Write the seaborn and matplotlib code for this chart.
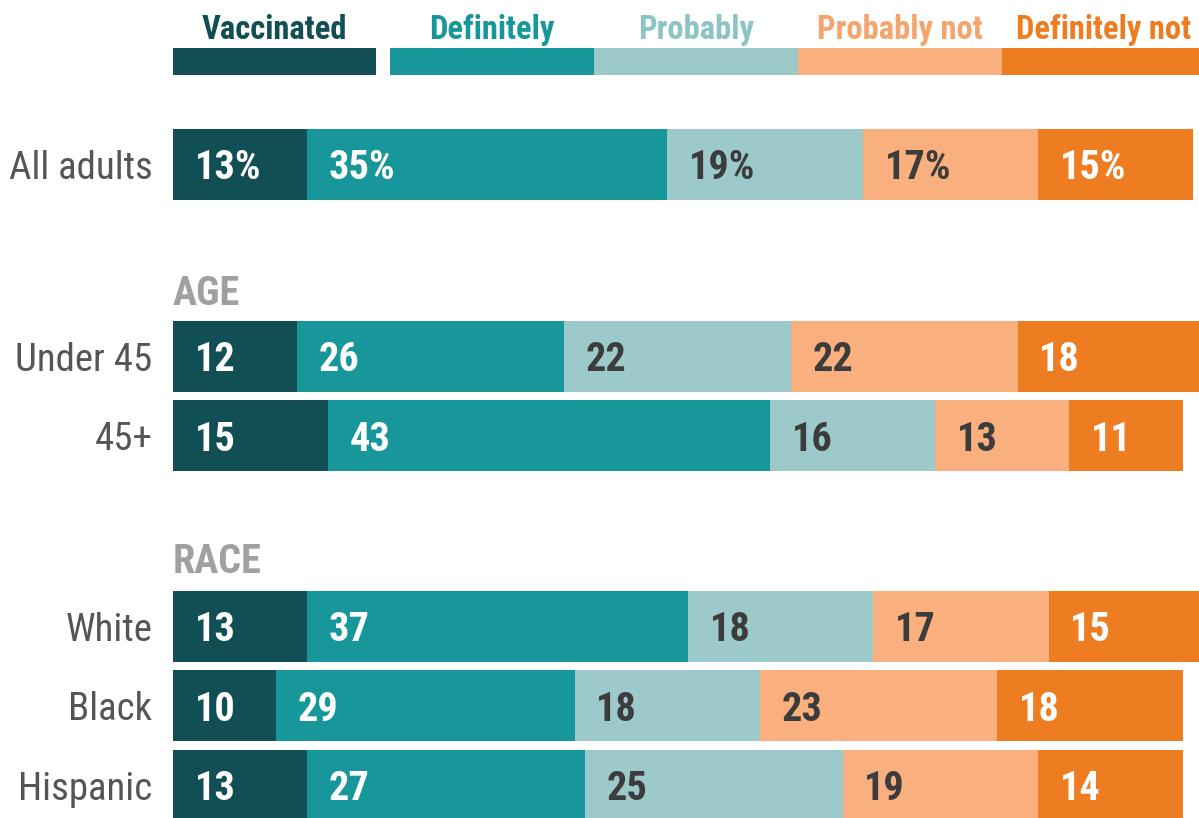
import numpy as np
import pandas as pd
import seaborn as sns
import matplotlib
matplotlib.use("Agg")
import matplotlib.pyplot as plt
from matplotlib import font_manager

# ---- data ----
groups = ["All adults", "Under 45", "45+", "White", "Black", "Hispanic"]
responses = ["Vaccinated", "Definitely", "Probably", "Probably not", "Definitely not"]
vaccinated = [13, 12, 15, 13, 10, 13]
definitely = [35, 26, 43, 37, 29, 27]
probably = [19, 22, 16, 18, 18, 25]
probably_not = [17, 22, 13, 17, 23, 19]
definitely_not = [15, 18, 11, 15, 18, 14]
sections = ["AGE", "RACE"]

# ---- style ----
colors = ["#114f54", "#17979a", "#9ccacb", "#f9b07e", "#ee7d22"]
legend_text_colors = ["#114f54", "#17979a", "#8cc4c5", "#f5a46b", "#ee7d22"]
value_text_colors = ["white", "white", "#3c3c3c", "#3c3c3c", "white"]

sns.set_theme(style="white")
avail = {f.name for f in font_manager.fontManager.ttflist}
family = "DejaVu Sans"
for cand in ["Liberation Sans Narrow", "Arial Narrow", "Roboto Condensed", "Pragati Narrow", "Liberation Sans"]:
    if cand in avail:
        family = cand
        break
plt.rcParams["font.family"] = [family, "DejaVu Sans"]

values = np.array([vaccinated, definitely, probably, probably_not, definitely_not], dtype=float)
cum = np.cumsum(values, axis=0)
starts = cum - values

# layout positions (rows)
ypos = np.array([0.0, 2.41, 3.41, 5.81, 6.81, 7.81])

fig = plt.figure(figsize=(11.99, 8.18), dpi=100)
ax = fig.add_axes([173 / 1199, 0, 1026 / 1199, 1])

# draw stacked bars via overlay (largest cumulative first)
for k in range(len(responses) - 1, -1, -1):
    df = pd.DataFrame({"value": cum[k], "pos": ypos})
    sns.barplot(data=df, x="value", y="pos", orient="h", native_scale=True,
                color=colors[k], saturation=1, width=0.893, linewidth=0,
                ax=ax, errorbar=None)

ax.set_xlim(0, 99.6)
ax.set_ylim(8.22, -2.069)
ax.set_axis_off()

# value labels
for i in range(len(groups)):
    for k in range(len(responses)):
        txt = f"{int(values[k, i])}%" if i == 0 else f"{int(values[k, i])}"
        ax.text(starts[k, i] + 2.1, ypos[i], txt, ha="left", va="center_baseline",
                fontsize=29, fontweight="bold", color=value_text_colors[k])

# category labels
for i, g in enumerate(groups):
    ax.text(-2.0, ypos[i], g, ha="right", va="center_baseline", fontsize=28,
            color="#555555", clip_on=False)

# section headers
for s, yy in zip(sections, [1.58, 4.95]):
    ax.text(0, yy, s, ha="left", va="center_baseline", fontsize=29,
            fontweight="bold", color="#a0a0a0")

# legend (custom bar)
leg_y = -1.296
leg_h = 0.34
leg_w = 19.8
leg_starts = [0, 21.07, 21.07 + leg_w, 21.07 + 2 * leg_w, 21.07 + 3 * leg_w]
for k, r in enumerate(responses):
    w = 19.7 if k == 0 else leg_w
    ax.barh(leg_y, w, left=leg_starts[k], height=leg_h, color=colors[k], linewidth=0)
    ax.text(leg_starts[k] + w / 2, -1.73, r, ha="center", va="center_baseline",
            fontsize=23.5, fontweight="bold", color=legend_text_colors[k])

fig.savefig("out.png", dpi=100)
